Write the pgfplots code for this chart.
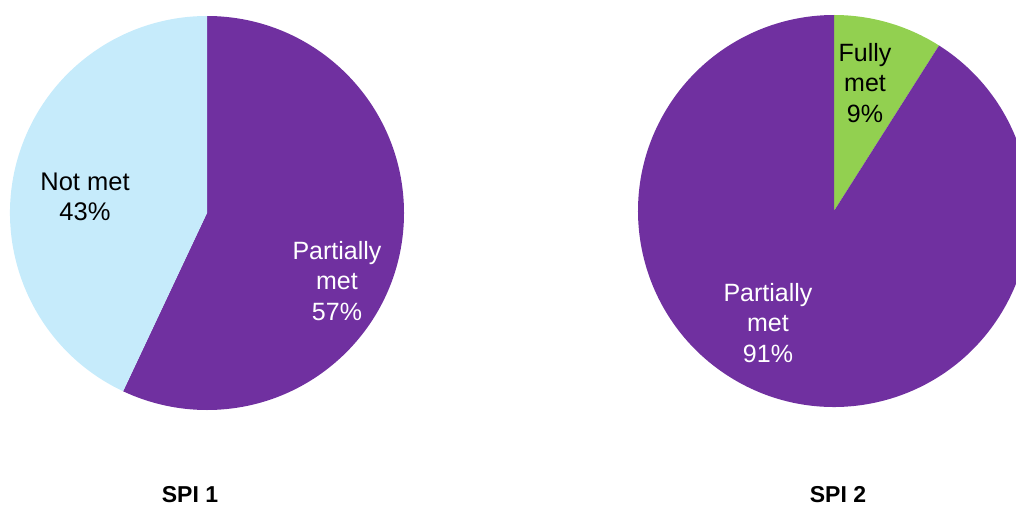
\documentclass[border=0pt]{standalone}
\usepackage{pgfplots}
\usepackage{pgfplotstable}
\pgfplotsset{compat=1.18}
\usepackage{fontspec}
\setmainfont{Liberation Sans}
\definecolor{cpurple}{HTML}{7030A0}
\definecolor{clblue}{HTML}{C6EBFB}
\definecolor{cgreen}{HTML}{92D050}
\pgfplotstableread{
label value
PartiallyMet 57
NotMet 43
}\spione
\pgfplotstableread{
label value
FullyMet 9
PartiallyMet 91
}\spitwo
\begin{document}
\begin{tikzpicture}
\useasboundingbox (0,0) rectangle (1016pt,507pt);
\begin{axis}[at={(0,0)}, anchor=south west, scale only axis,
  width=1016pt, height=507pt, xmin=0, xmax=1016, ymin=0, ymax=507,
  hide axis, clip=true]
% SPI 1
\pgfplotstablegetelem{0}{value}\of\spione
\pgfmathsetmacro\aone{90-3.6*\pgfplotsretval}
\fill[cpurple] (axis cs:207,294) -- ++(90:197pt) arc[start angle=90, end angle=\aone, radius=197pt] -- cycle;
\pgfplotstablegetelem{1}{value}\of\spione
\pgfmathsetmacro\atwo{\aone-3.6*\pgfplotsretval}
\fill[clblue] (axis cs:207,294) -- ++(\aone:197pt) arc[start angle=\aone, end angle=\atwo, radius=197pt] -- cycle;
% SPI 2
\pgfplotstablegetelem{0}{value}\of\spitwo
\pgfmathsetmacro\bone{90-3.6*\pgfplotsretval}
\fill[cgreen] (axis cs:834,296) -- ++(90:196pt) arc[start angle=90, end angle=\bone, radius=196pt] -- cycle;
\pgfplotstablegetelem{1}{value}\of\spitwo
\pgfmathsetmacro\btwo{\bone-3.6*\pgfplotsretval}
\fill[cpurple] (axis cs:834,296) -- ++(\bone:196pt) arc[start angle=\bone, end angle=\btwo, radius=196pt] -- cycle;
% labels
\node[align=center, font=\fontsize{25.5}{30.5}\selectfont] at (axis cs:85,310) {Not met\\43\%};
\node[align=center, text=white, font=\fontsize{25}{30.5}\selectfont] at (axis cs:337,226) {Partially\\met\\57\%};
\node[align=center, font=\fontsize{25}{30.5}\selectfont] at (axis cs:865,424) {Fully\\met\\9\%};
\node[align=center, text=white, font=\fontsize{25}{30.5}\selectfont] at (axis cs:768,184) {Partially\\met\\91\%};
\node[font=\fontsize{23}{28}\selectfont\bfseries] at (axis cs:190,12) {SPI 1};
\node[font=\fontsize{23}{28}\selectfont\bfseries] at (axis cs:838,12) {SPI 2};
\end{axis}
\end{tikzpicture}
\end{document}
